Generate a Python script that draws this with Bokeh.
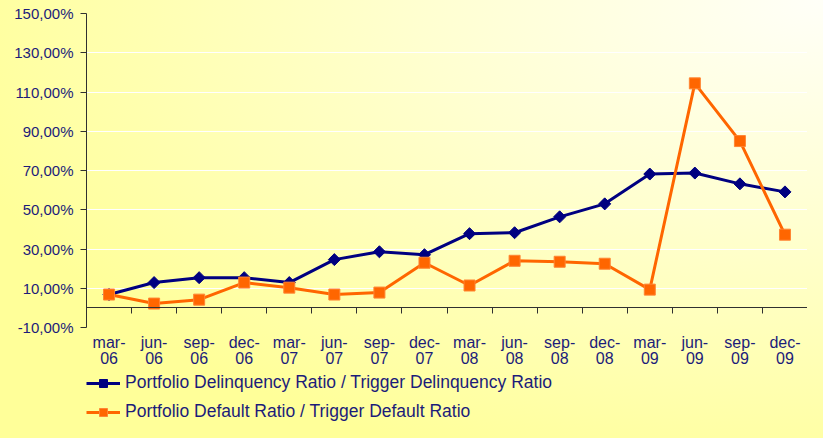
from bokeh.plotting import figure
from bokeh.models import (LinearAxis, FixedTicker, CustomJSTickFormatter, Legend,
                          LegendItem, Range1d, ColumnDataSource, GlobalInlineStyleSheet)
from bokeh.embed import file_html
from bokeh.resources import INLINE

months = ["mar-06", "jun-06", "sep-06", "dec-06", "mar-07", "jun-07", "sep-07", "dec-07",
          "mar-08", "jun-08", "sep-08", "dec-08", "mar-09", "jun-09", "sep-09", "dec-09"]
delinquency = [6.8, 12.9, 15.4, 15.4, 12.9, 24.6, 28.6, 27.1,
               37.8, 38.3, 46.4, 53.0, 68.2, 68.7, 63.2, 59.1]
default = [6.8, 2.2, 4.2, 12.9, 10.3, 6.8, 7.8, 23.0,
           11.4, 24.0, 23.5, 22.5, 9.3, 114.4, 85.0, 37.3]
y_ticks = [-10, 10, 30, 50, 70, 90, 110, 130, 150]
series_names = ["Portfolio Delinquency Ratio / Trigger Delinquency Ratio",
                "Portfolio Default Ratio / Trigger Default Ratio"]

FONT = "Liberation Sans"
TXT = "#1C1C7A"
BLUE = "#000080"
ORANGE = "#FF6600"
AXC = "#303030"

n = len(months)
month_part = [m.split("-")[0] + "-" for m in months]
year_part = [m.split("-")[1] for m in months]
centers = [i + 0.5 for i in range(n)]
src = ColumnDataSource(dict(x=centers, d=delinquency, f=default))

# the frame reaches the bottom of the canvas so that labels and legend live inside it;
# the value axis itself is bounded to -10..150
p = figure(width=807, height=422, output_backend="svg", toolbar_location=None,
           x_range=Range1d(0, n), y_range=Range1d(-58.4, 150),
           x_axis_location=None, y_axis_location="left",
           min_border_left=86, min_border_right=0, min_border_top=13,
           min_border_bottom=0)
p.outline_line_color = None
p.border_fill_alpha = 0
p.background_fill_alpha = 0
p.stylesheets = [GlobalInlineStyleSheet(css=(
    "html{min-height:100%;background:radial-gradient(ellipse 900px 500px at 100% 0%,"
    "#FFFFF8 0%,#FFFFD0 45%,#FFFF99 100%) no-repeat #FFFF99;}"
    "body{background:transparent;}"))]

# y axis
ya = p.yaxis[0]
ya.bounds = (y_ticks[0], y_ticks[-1])
ya.ticker = FixedTicker(ticks=y_ticks)
ya.formatter = CustomJSTickFormatter(code="return tick.toFixed(2).replace('.', ',') + '%';")
ya.axis_line_color = AXC
ya.major_tick_line_color = AXC
ya.major_tick_in = 0
ya.major_tick_out = 6
ya.minor_tick_line_color = None
ya.major_label_text_font = FONT
ya.major_label_text_font_size = "15px"
ya.major_label_text_color = TXT
ya.major_label_standoff = 7

p.xgrid.visible = False
p.ygrid.ticker = FixedTicker(ticks=y_ticks[1:])
p.ygrid.grid_line_color = "white"
p.ygrid.grid_line_width = 1.2


def label_axis(parts, standoff):
    return LinearAxis(ticker=FixedTicker(ticks=centers), fixed_location=y_ticks[0],
                      formatter=CustomJSTickFormatter(args=dict(labels=parts),
                                                      code="return labels[Math.floor(tick)];"),
                      axis_line_color=None, major_tick_line_color=None, major_tick_out=0,
                      minor_tick_line_color=None, major_label_standoff=standoff,
                      major_label_text_font=FONT, major_label_text_font_size="16px",
                      major_label_text_color=TXT)


# axis line at zero with ticks between categories
tick_axis = LinearAxis(ticker=FixedTicker(ticks=list(range(1, n))), fixed_location=0,
                       axis_line_color=AXC, major_tick_line_color=AXC,
                       major_tick_in=0, major_tick_out=6, minor_tick_line_color=None,
                       major_label_text_alpha=0, major_label_text_font_size="1px")
p.add_layout(tick_axis, "below")
p.add_layout(label_axis(month_part, 6), "below")
p.add_layout(label_axis(year_part, 24), "below")

l1 = p.line("x", "d", source=src, line_color=BLUE, line_width=3)
m1 = p.scatter("x", "d", source=src, marker="square", angle=0.7853981634, size=8.5,
               fill_color=BLUE, line_color=BLUE)
l2 = p.line("x", "f", source=src, line_color=ORANGE, line_width=3)
m2 = p.scatter("x", "f", source=src, marker="square", size=11, fill_color=ORANGE,
               line_color="#FF8533")

legend = Legend(items=[LegendItem(label=series_names[0], renderers=[l1, m1]),
                       LegendItem(label=series_names[1], renderers=[l2, m2])],
                location=(0, 0), orientation="vertical",
                label_text_font=FONT, label_text_font_size="17.5px", label_text_color=TXT,
                glyph_width=34, glyph_height=20, label_height=20, spacing=8,
                padding=0, margin=0, label_standoff=5,
                background_fill_alpha=0, border_line_alpha=0)
p.add_layout(legend, "center")

open("out.html", "w").write(file_html(p, INLINE))
